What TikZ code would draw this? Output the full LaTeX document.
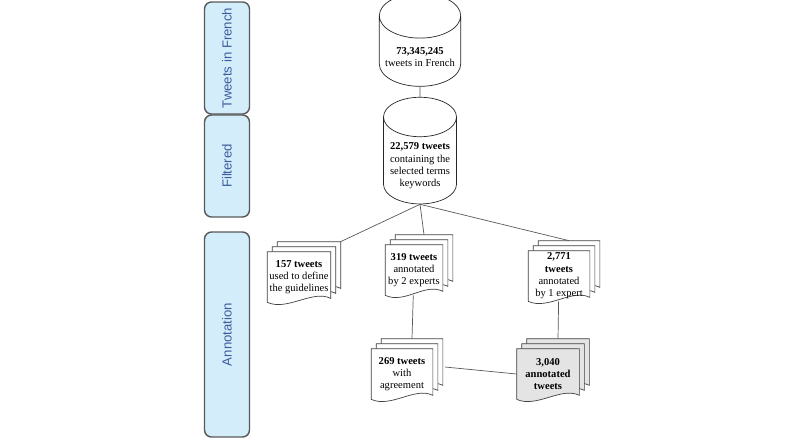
\documentclass[tikz,border=0pt]{standalone}
\usepackage{fontspec}
\setmainfont{Liberation Serif}
\newfontfamily\lanefont{Liberation Sans}
\usetikzlibrary{calc,shapes.geometric,backgrounds}

\definecolor{lanefill}{HTML}{D4EDFB}
\definecolor{lanetext}{HTML}{3B5C9C}
\definecolor{docgray}{HTML}{E4E4E4}

\tikzset{
  lane/.style={draw=black!65, thick, fill=lanefill, rounded corners=4pt, minimum width=45*0.02cm, text=lanetext, font=\lanefont\fontsize{7.5}{8}\selectfont},
  db/.style={draw=black!85, cylinder, shape border rotate=90, aspect=0.55, minimum width=73*0.02cm, minimum height=93*0.02cm, align=center, font=\fontsize{6}{7}\selectfont},
  doc/.style={minimum width=#1*0.02cm, minimum height=50*0.02cm, align=center, font=\fontsize{6}{7}\selectfont, inner sep=1pt},
  page/.style={draw=black!75, fill=white},
  link/.style={draw=black!65}
}

% stack of pages behind a document node: name, fill, number of back pages
\newcommand\docpages[3]{%
  \begin{scope}[on background layer]
    \foreach \o in {#3,...,0} {
      \path ($(#1.north west)+(\o*5,-\o*5)$) coordinate (nw)
            ($(#1.north east)+(\o*5,-\o*5)$) coordinate (ne)
            ($(#1.south east)+(\o*5,-\o*5-4)$) coordinate (se)
            ($(#1.south west)+(\o*5,-\o*5)$) coordinate (sw);
      \draw[page, fill=#2] (sw) -- (nw) -- (ne) -- (se)
        .. controls +(-18,-9) and +(20,9) .. (sw);
    }
  \end{scope}
  \path ($(#1.north)+(#3*5,-#3*5)$) coordinate (#1-top)
        ($(#1.north east)+(#3*5,-#3*5)$) coordinate (#1-corner);
}

\begin{document}
\begin{tikzpicture}[x=0.02cm, y=-0.02cm]
\useasboundingbox (0,0) rectangle (800,446);

% lanes
\node[lane, minimum height=100*0.02cm] (l1) at (227,58) {\rotatebox{90}{Tweets in French}};
\node[lane, minimum height=102*0.02cm] (l2) at (227,166) {\rotatebox{90}{Filtered}};
\node[lane, minimum height=205*0.02cm] (l3) at (227,334.5) {\rotatebox{90}{Annotation}};

% databases
\node[db] (all) at (420,57) {\textbf{73,345,245}\\tweets in French};
\node[db] (filt) at (420,166) {\textbf{22,579 tweets}\\containing the\\selected terms\\keywords};

% documents
\node[doc=62] (d157) at (299,277) {\textbf{157 tweets}\\used to define\\the guidelines};
\docpages{d157}{white}{2}
\node[doc=57] (d319) at (414,270) {\textbf{319 tweets}\\annotated\\by 2 experts};
\docpages{d319}{white}{2}
\node[doc=61] (d2771) at (559,276) {\textbf{2,771}\\\textbf{tweets}\\annotated\\by 1 expert};
\docpages{d2771}{white}{2}
\node[doc=61] (d269) at (402,374) {\textbf{269 tweets}\\with\\agreement};
\docpages{d269}{white}{2}
\node[doc=62] (d3040) at (548,374) {\textbf{3,040}\\\textbf{annotated}\\\textbf{tweets}};
\docpages{d3040}{docgray}{2}

% connectors
\draw[link] (all) -- (filt);
\draw[link] (filt.south) -- (d157-corner);
\draw[link] (filt.south) -- (d319-top);
\draw[link] (filt.south) -- (d2771-top);
\draw[link] (d319) -- (d269-top);
\draw[link] (d2771) -- (d3040-top);
\draw[link] ($(d269.east)+(12,-7)$) -- (d3040.west);
\end{tikzpicture}
\end{document}
